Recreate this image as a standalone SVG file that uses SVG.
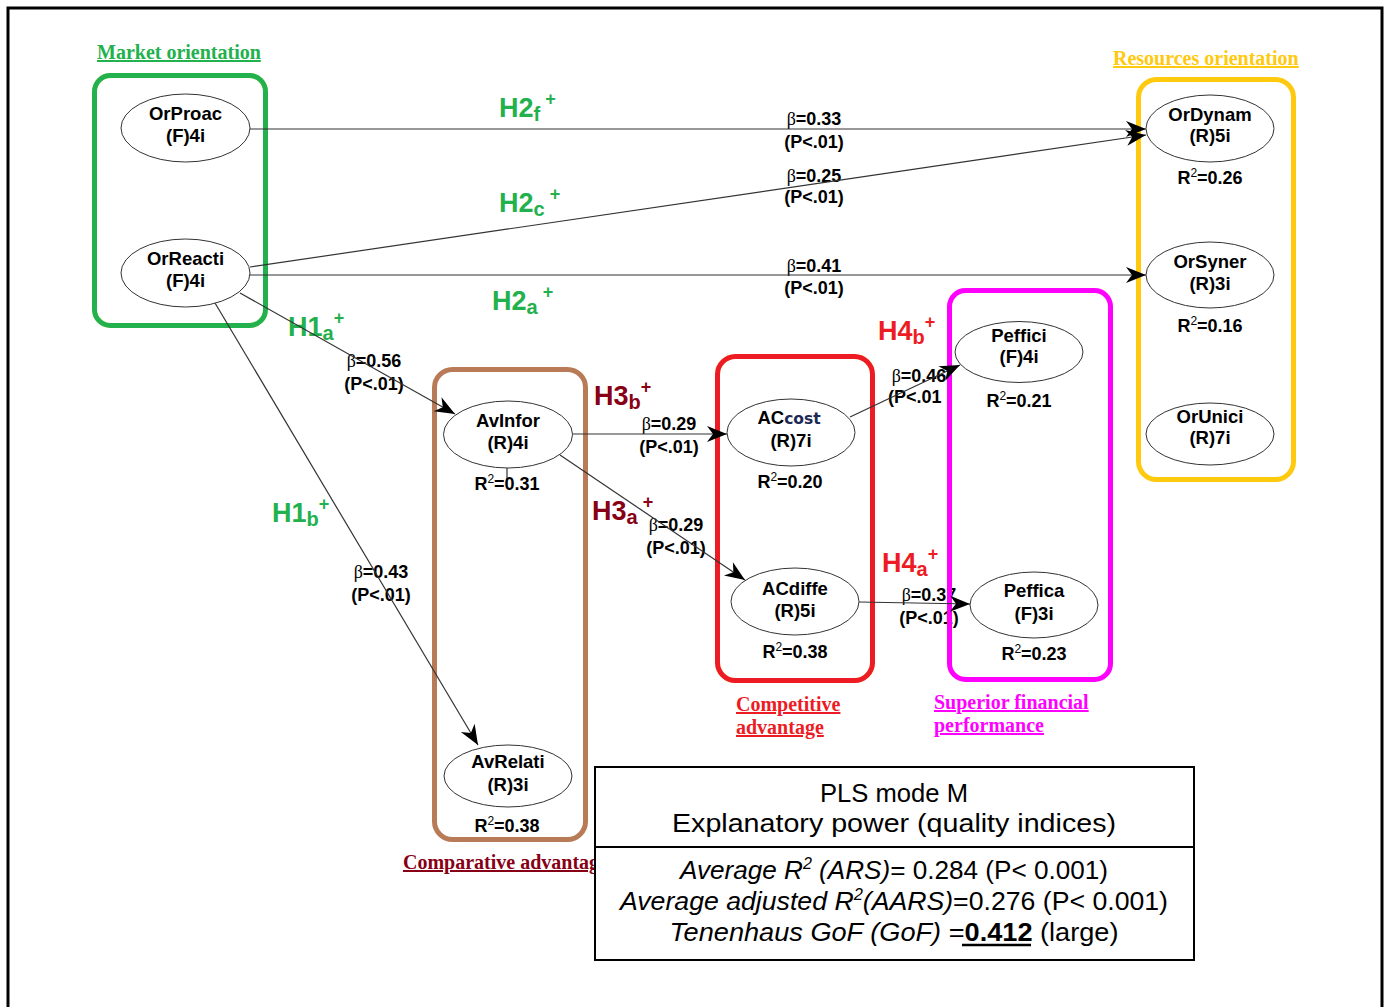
<svg xmlns="http://www.w3.org/2000/svg" width="1384" height="1007" viewBox="0 0 1384 1007">
<style>
.n{font-family:"Liberation Sans",Arial,sans-serif;font-weight:bold;font-size:18.5px;text-anchor:middle;fill:#000}
.r{font-family:"Liberation Sans",Arial,sans-serif;font-weight:bold;font-size:18px;text-anchor:middle;fill:#000}
.b{font-family:"Liberation Sans",Arial,sans-serif;font-weight:bold;font-size:18px;text-anchor:middle;fill:#000}
.bs{font-family:"Liberation Serif","Times New Roman",serif;font-weight:normal}
.g{font-family:"Liberation Serif","Times New Roman",serif;font-weight:bold;font-size:20px;text-decoration:underline}
.h{font-family:"Liberation Sans",Arial,sans-serif;font-weight:bold;font-size:27px}
.e{fill:#fff;stroke:#333;stroke-width:1}
.c{stroke:#333;stroke-width:1.2;fill:none;marker-end:url(#arr)}
.box{fill:none;stroke-width:5}
.t{font-family:"Liberation Sans",Arial,sans-serif;font-size:26px;text-anchor:middle;fill:#000}
</style>
<defs>
<marker id="arr" viewBox="0 0 22 18" refX="21" refY="9" markerWidth="22" markerHeight="18" orient="auto" markerUnits="userSpaceOnUse">
<path d="M21,9 L1,1 L7,9 L1,17 Z" fill="#000"/>
</marker>
<clipPath id="clipCA"><rect x="0" y="840" width="594" height="40"/></clipPath>
</defs>
<rect width="1384" height="1007" fill="#fff"/>
<path d="M8,1007 V8 H1382 V1007" fill="none" stroke="#000" stroke-width="3"/>

<!-- group titles -->
<text class="g" x="97" y="59" fill="#22b14c">Market orientation</text>
<text class="g" x="1113" y="65" fill="#ffc90e">Resources orientation</text>
<text class="g" x="736" y="711" fill="#ed1c24">Competitive </text>
<text class="g" x="736" y="734" fill="#ed1c24">advantage</text>
<text class="g" x="934" y="709" fill="#ff00ff">Superior financial </text>
<text class="g" x="934" y="732" fill="#ff00ff">performance</text>
<text class="g" x="403" y="869" fill="#880015" clip-path="url(#clipCA)">Comparative advantage</text>

<!-- path coefficient labels -->
<g id="labels">
<text class="b" x="814" y="125"><tspan class="bs">β</tspan>=0.33</text>
<text class="b" x="814" y="148">(P&lt;.01)</text>
<text class="b" x="814" y="182"><tspan class="bs">β</tspan>=0.25</text>
<text class="b" x="814" y="203">(P&lt;.01)</text>
<text class="b" x="814" y="272"><tspan class="bs">β</tspan>=0.41</text>
<text class="b" x="814" y="294">(P&lt;.01)</text>
<text class="b" x="374" y="367"><tspan class="bs">β</tspan>=0.56</text>
<text class="b" x="374" y="390">(P&lt;.01)</text>
<text class="b" x="381" y="578"><tspan class="bs">β</tspan>=0.43</text>
<text class="b" x="381" y="601">(P&lt;.01)</text>
<text class="b" x="669" y="430"><tspan class="bs">β</tspan>=0.29</text>
<text class="b" x="669" y="453">(P&lt;.01)</text>
<text class="b" x="676" y="531"><tspan class="bs">β</tspan>=0.29</text>
<text class="b" x="676" y="554">(P&lt;.01)</text>
<text class="b" x="919" y="382"><tspan class="bs">β</tspan>=0.46</text>
<text class="b" x="888" y="403" style="text-anchor:start">(P&lt;.01</text>
<text class="b" x="929" y="601"><tspan class="bs">β</tspan>=0.37</text>
<text class="b" x="929" y="624">(P&lt;.01)</text>
</g>

<!-- hypothesis labels -->
<g id="hypotheses">
<text class="h" x="499" y="117" fill="#22b14c">H2<tspan dy="4" font-size="20">f</tspan><tspan dy="-16" font-size="18"> +</tspan></text>
<text class="h" x="499" y="212" fill="#22b14c">H2<tspan dy="4" font-size="20">c</tspan><tspan dy="-16" font-size="18"> +</tspan></text>
<text class="h" x="492" y="310" fill="#22b14c">H2<tspan dy="4" font-size="20">a</tspan><tspan dy="-16" font-size="18"> +</tspan></text>
<text class="h" x="288" y="336" fill="#22b14c">H1<tspan dy="4" font-size="20">a</tspan><tspan dy="-16" font-size="18">+</tspan></text>
<text class="h" x="272" y="522" fill="#22b14c">H1<tspan dy="4" font-size="20">b</tspan><tspan dy="-16" font-size="18">+</tspan></text>
<text class="h" x="594" y="405" fill="#880015">H3<tspan dy="4" font-size="20">b</tspan><tspan dy="-16" font-size="18">+</tspan></text>
<text class="h" x="592" y="520" fill="#880015">H3<tspan dy="4" font-size="20">a</tspan><tspan dy="-16" font-size="18"> +</tspan></text>
<text class="h" x="878" y="340" fill="#ed1c24">H4<tspan dy="4" font-size="20">b</tspan><tspan dy="-16" font-size="18">+</tspan></text>
<text class="h" x="882" y="572" fill="#ed1c24">H4<tspan dy="4" font-size="20">a</tspan><tspan dy="-16" font-size="18">+</tspan></text>
</g>

<!-- group boxes -->
<g id="groups">
<rect x="94.5" y="75.5" width="171" height="250" rx="16" class="box" stroke="#ffff80" stroke-width="7"/>
<rect x="94.5" y="75.5" width="171" height="250" rx="16" class="box" stroke="#22b14c"/>
<rect x="1138.5" y="79.5" width="155" height="400" rx="18" class="box" stroke="#ffc90e"/>
<rect x="434.5" y="369.5" width="151" height="470" rx="18" class="box" stroke="#b97a57"/>
<rect x="717.5" y="356.5" width="155" height="324" rx="18" class="box" stroke="#ffff80" stroke-width="7"/>
<rect x="717.5" y="356.5" width="155" height="324" rx="18" class="box" stroke="#ed1c24"/>
<rect x="949.5" y="290.5" width="161" height="389" rx="16" class="box" stroke="#ff00ff"/>
</g>

<!-- connectors -->
<g id="connectors">
<line class="c" x1="250" y1="129" x2="1146" y2="129"/>
<line class="c" x1="250" y1="267" x2="1146" y2="135"/>
<line class="c" x1="250" y1="275" x2="1146" y2="275"/>
<line class="c" x1="240" y1="293" x2="455" y2="414"/>
<line class="c" x1="215" y1="303" x2="478" y2="745"/>
<line class="c" x1="572" y1="434" x2="727" y2="434"/>
<line class="c" x1="560" y1="455" x2="745" y2="580"/>
<line class="c" x1="850" y1="417" x2="960" y2="365"/>
<line class="c" x1="859" y1="602" x2="970" y2="604"/>
<line x1="507" y1="468" x2="507" y2="479" stroke="#333" stroke-width="1.2"/>
</g>

<!-- nodes -->
<g id="OrProac">
<ellipse class="e" cx="185.5" cy="128" rx="64.5" ry="34"/>
<text class="n" x="185.5" y="120">OrProac</text><text class="n" x="185.5" y="142">(F)4i</text>
</g>
<g id="OrReacti">
<ellipse class="e" cx="185.5" cy="273" rx="64.5" ry="34"/>
<text class="n" x="185.5" y="265">OrReacti</text><text class="n" x="185.5" y="287">(F)4i</text>
</g>
<g id="OrDynam">
<ellipse class="e" cx="1210" cy="128.5" rx="64" ry="33.5"/>
<text class="n" x="1210" y="121">OrDynam</text><text class="n" x="1210" y="142">(R)5i</text>
<text class="r" x="1210" y="184">R<tspan font-size="12" font-weight="normal" dy="-7">2</tspan><tspan dy="7">=0.26</tspan></text>
</g>
<g id="OrSyner">
<ellipse class="e" cx="1210" cy="275" rx="64" ry="33"/>
<text class="n" x="1210" y="268">OrSyner</text><text class="n" x="1210" y="290">(R)3i</text>
<text class="r" x="1210" y="332">R<tspan font-size="12" font-weight="normal" dy="-7">2</tspan><tspan dy="7">=0.16</tspan></text>
</g>
<g id="OrUnici">
<ellipse class="e" cx="1210" cy="434" rx="64" ry="31"/>
<text class="n" x="1210" y="423">OrUnici</text><text class="n" x="1210" y="444">(R)7i</text>
</g>
<g id="AvInfor">
<ellipse class="e" cx="508" cy="434.5" rx="64.5" ry="33.5"/>
<text class="n" x="508" y="427">AvInfor</text><text class="n" x="508" y="449">(R)4i</text>
<text class="r" x="507" y="490">R<tspan font-size="12" font-weight="normal" dy="-7">2</tspan><tspan dy="7">=0.31</tspan></text>
</g>
<g id="AvRelati">
<ellipse class="e" cx="508" cy="776" rx="64" ry="31"/>
<text class="n" x="508" y="768">AvRelati</text><text class="n" x="508" y="791">(R)3i</text>
<text class="r" x="507" y="832">R<tspan font-size="12" font-weight="normal" dy="-7">2</tspan><tspan dy="7">=0.38</tspan></text>
</g>
<g id="ACcost">
<ellipse class="e" cx="791" cy="432.5" rx="64" ry="33.5"/>
<text class="n" x="789" y="424">AC<tspan font-family="DejaVu Sans,sans-serif" font-size="15.5" fill="#1b2a55">cost</tspan></text><text class="n" x="791" y="447">(R)7i</text>
<text class="r" x="790" y="488">R<tspan font-size="12" font-weight="normal" dy="-7">2</tspan><tspan dy="7">=0.20</tspan></text>
</g>
<g id="ACdiffe">
<ellipse class="e" cx="795" cy="601.5" rx="64" ry="33.5"/>
<text class="n" x="795" y="595">ACdiffe</text><text class="n" x="795" y="617">(R)5i</text>
<text class="r" x="795" y="658">R<tspan font-size="12" font-weight="normal" dy="-7">2</tspan><tspan dy="7">=0.38</tspan></text>
</g>
<g id="Peffici">
<ellipse class="e" cx="1019" cy="352" rx="64" ry="30.5"/>
<text class="n" x="1019" y="342">Peffici</text><text class="n" x="1019" y="363">(F)4i</text>
<text class="r" x="1019" y="407">R<tspan font-size="12" font-weight="normal" dy="-7">2</tspan><tspan dy="7">=0.21</tspan></text>
</g>
<g id="Peffica">
<ellipse class="e" cx="1034" cy="605" rx="64" ry="33"/>
<text class="n" x="1034" y="597">Peffica</text><text class="n" x="1034" y="620">(F)3i</text>
<text class="r" x="1034" y="660">R<tspan font-size="12" font-weight="normal" dy="-7">2</tspan><tspan dy="7">=0.23</tspan></text>
</g>

<!-- quality indices table -->
<g id="table">
<rect x="595" y="767" width="599" height="193" fill="#fff" stroke="#000" stroke-width="2"/>
<line x1="595" y1="847" x2="1194" y2="847" stroke="#000" stroke-width="2"/>
<text class="t" x="894" y="802" textLength="148" lengthAdjust="spacingAndGlyphs">PLS mode M</text>
<text class="t" x="894" y="832" textLength="444" lengthAdjust="spacingAndGlyphs">Explanatory power (quality indices)</text>
<text class="t" x="894" y="879" textLength="428" lengthAdjust="spacingAndGlyphs"><tspan font-style="italic">Average R<tspan font-size="16" dy="-10">2</tspan><tspan dy="10"> (ARS)</tspan></tspan>= 0.284 (P&lt; 0.001)</text>
<text class="t" x="894" y="910" textLength="548" lengthAdjust="spacingAndGlyphs"><tspan font-style="italic">Average adjusted R<tspan font-size="16" dy="-10">2</tspan><tspan dy="10">(AARS)</tspan></tspan>=0.276 (P&lt; 0.001)</text>
<text class="t" x="894" y="941" textLength="449" lengthAdjust="spacingAndGlyphs"><tspan font-style="italic">Tenenhaus GoF (GoF)</tspan> =<tspan font-weight="bold">0.412</tspan> (large)</text>
<line x1="962" y1="945" x2="1031" y2="945" stroke="#000" stroke-width="2.5"/>
</g>
</svg>
